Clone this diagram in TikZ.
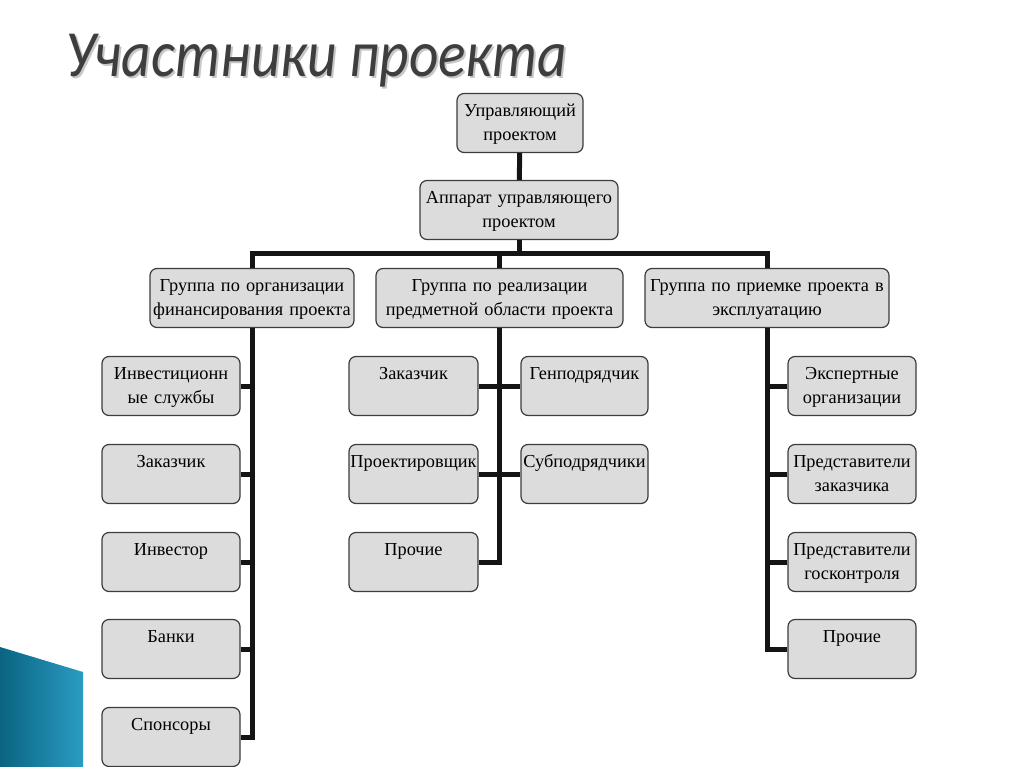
\documentclass[tikz,border=0pt]{standalone}
\usepackage{fontspec}
\setmainfont[WordSpace=0.85]{Liberation Serif}
\newfontfamily\titlefont[FakeStretch=0.87]{Carlito}
\usetikzlibrary{calc}
\definecolor{boxgray}{RGB}{220,220,220}
\definecolor{boxline}{RGB}{60,60,60}
\definecolor{titlegray}{RGB}{62,62,62}
\definecolor{tealdark}{RGB}{10,100,130}
\definecolor{teallight}{RGB}{42,156,194}
\tikzset{
  unit/.style={draw=boxline, line width=1.2pt, fill=boxgray, rounded corners=7pt,
    align=center, inner xsep=0pt, inner ysep=4pt, text width=#1,
    text height=19pt, text depth=32pt, font=\fontsize{18.3}{24}\selectfont},
  conn/.style={line width=5pt, black!92}
}

\begin{document}
\begin{tikzpicture}[x=1pt, y=-1pt]
\useasboundingbox (0,0) rectangle (1024,767);
% decoration and title
\shade[left color=tealdark, right color=teallight] (0,647) -- (83,672) -- (83,767) -- (0,767) -- cycle;
\path (64,79) node[anchor=base west, text=black!22, font=\titlefont\itshape\fontsize{66}{66}\selectfont] (titleshadow) {Участники проекта};
\path (62,77) node[anchor=base west, text=titlegray, font=\titlefont\itshape\fontsize{66}{66}\selectfont] (title) {Участники проекта};

% head of the project
\node[unit=126pt] (mgr) at (520,123) {Управляющий\\проектом};
\node[unit=198pt] (staff) at (519,210) {Аппарат управляющего\\проектом};
\coordinate (bus) at ($(staff.south)+(0,13)$);

% groups
\node[unit=204pt] (grpfin) at (252,298) {Группа по организации\\финансирования проекта};
\node[unit=247pt] (grpsub) at (499.5,298) {Группа по реализации\\предметной области проекта};
\node[unit=244pt] (grpacc) at (767,298) {Группа по приемке проекта в\\эксплуатацию};

% financing
\node[unit=138pt] (fin1) at (171,386) {Инвестиционн\\ые службы};
\node[unit=138pt] (fin2) at (171,474) {Заказчик};
\node[unit=138pt] (fin3) at (171,562) {Инвестор};
\node[unit=138pt] (fin4) at (171,649) {Банки};
\node[unit=138pt] (fin5) at (171,737) {Спонсоры};

% subject area
\node[unit=129pt] (subcli) at (413.5,386) {Заказчик};
\node[unit=127pt] (subgen) at (584.5,386) {Генподрядчик};
\node[unit=129pt] (subdes) at (413.5,474) {Проектировщик};
\node[unit=127pt] (subsub) at (584.5,474) {Субподрядчики};
\node[unit=129pt] (subetc) at (413.5,562) {Прочие};

% acceptance
\node[unit=128pt] (acc1) at (852,386) {Экспертные\\организации};
\node[unit=128pt] (acc2) at (852,474) {Представители\\заказчика};
\node[unit=128pt] (acc3) at (852,562) {Представители\\госконтроля};
\node[unit=128pt] (acc4) at (852,649) {Прочие};

% connectors
\draw[conn] (mgr) -- (staff);
\draw[conn] (staff) -- (bus);
\draw[conn] (grpfin.north) |- (bus) -| (grpacc.north);
\draw[conn] (bus -| grpsub.north) -- (grpsub.north);

\draw[conn] (grpfin.south) |- (fin5.east);
\foreach \n in {fin1,fin2,fin3,fin4}
  \draw[conn] (\n.east) -- (\n.east -| grpfin.south);

\draw[conn] (grpsub.south) |- (subetc.east);
\draw[conn] (subcli.east) -- (subgen.west);
\draw[conn] (subdes.east) -- (subsub.west);

\draw[conn] (grpacc.south) |- (acc4.west);
\foreach \n in {acc1,acc2,acc3}
  \draw[conn] (\n.west) -- (\n.west -| grpacc.south);
\end{tikzpicture}
\end{document}
